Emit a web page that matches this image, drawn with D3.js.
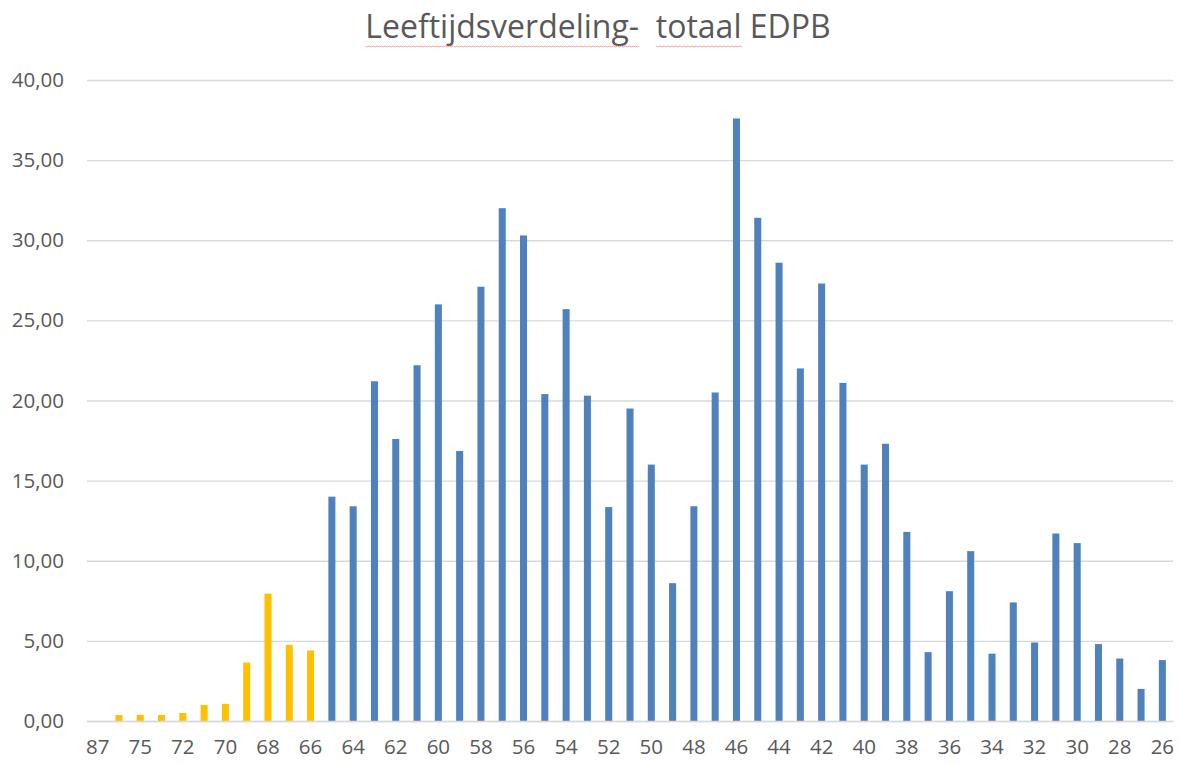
<!DOCTYPE html>
<html>
<head>
<meta charset="utf-8">
<script src="https://cdn.jsdelivr.net/npm/d3@7"></script>
<style>
  body { margin: 0; background: #fff; }
  svg { display: block; font-family: "Open Sans", "Liberation Sans", sans-serif; }
</style>
</head>
<body>
<svg id="chart"></svg>
<script>
// ages on x axis (oldest first), only every other one is labelled
const ages = ['87', '76', '75', '74', '72', '71', '70', '69', '68', '67', '66',
  '65', '64', '63', '62', '61', '60', '59', '58', '57', '56', '55', '54', '53', '52',
  '51', '50', '49', '48', '47', '46', '45', '44', '43', '42', '41', '40', '39', '38',
  '37', '36', '35', '34', '33', '32', '31', '30', '29', '28', '27', '26']
const values = [0, 0.37, 0.38, 0.38, 0.5, 1.0, 1.07, 3.65, 7.95, 4.75, 4.4,
  14.0, 13.4, 21.2, 17.6, 22.2, 26.0, 16.85, 27.1, 32.0, 30.3, 20.4, 25.7, 20.3, 13.35,
  19.5, 16.0, 8.6, 13.4, 20.5, 37.6, 31.4, 28.6, 22.0, 27.3, 21.1, 16.0, 17.3, 11.8,
  4.3, 8.1, 10.6, 4.2, 7.4, 4.9, 11.7, 11.1, 4.8, 3.9, 2.0, 3.8]
// first ages (retired) drawn in yellow
const retiredCount = 11
const yTicks = [0, 5, 10, 15, 20, 25, 30, 35, 40]
const title = 'Leeftijdsverdeling-  totaal EDPB'

const width = 1181, height = 765
const margin = {top: 80, right: 8, bottom: 44, left: 87}
const fontFam = '"Open Sans", "Liberation Sans", sans-serif'

const svg = d3.select('#chart')
  .attr('width', width)
  .attr('height', height)

const x = d3.scaleBand()
  .domain(ages)
  .range([margin.left, width - margin.right])
  .paddingInner(0.67)
  .paddingOuter(0.335)

const y = d3.scaleLinear()
  .domain([0, 40])
  .range([height - margin.bottom, margin.top])

const fmt = v => v.toFixed(2).replace('.', ',')

// grid + y labels
const yAxis = svg.append('g')
  .attr('transform', `translate(${margin.left},0)`)
  .attr('font-family', fontFam)
  .call(d3.axisLeft(y).tickValues(yTicks).tickFormat(fmt)
    .tickSize(-(width - margin.left - margin.right)).tickPadding(23))
yAxis.select('.domain').remove()
yAxis.selectAll('line').attr('stroke', '#d9d9d9').attr('stroke-width', 1.3)
yAxis.selectAll('text')
  .attr('fill', '#595959')
  .style('font-family', fontFam)
  .style('font-size', '20.5px')

// bars
svg.append('g').selectAll('rect')
  .data(values)
  .join('rect')
    .attr('x', (d, i) => x(ages[i]))
    .attr('y', d => y(d))
    .attr('width', x.bandwidth())
    .attr('height', d => y(0) - y(d))
    .attr('fill', (d, i) => i < retiredCount ? '#ffc000' : '#4f81bd')

// x axis
const xAxis = svg.append('g')
  .attr('transform', `translate(0,${y(0)})`)
  .attr('font-family', fontFam)
  .call(d3.axisBottom(x).tickSize(0).tickPadding(18)
    .tickFormat((d, i) => i % 2 === 0 ? d : ''))
xAxis.select('.domain').attr('stroke', '#d9d9d9').attr('stroke-width', 1.3)
xAxis.selectAll('text')
  .attr('fill', '#595959')
  .style('font-family', fontFam)
  .style('font-size', '20.5px')

// title
const t = svg.append('text')
  .attr('x', 598)
  .attr('y', 38)
  .attr('text-anchor', 'middle')
  .attr('fill', '#595959')
  .style('font-size', '32px')
  .style('white-space', 'pre')
  .text(title)

// spell-check squiggles under the first two words
const node = t.node()
const x0 = node.getStartPositionOfChar(0).x
const squiggle = (from, len) => {
  const sx = x0 + node.getSubStringLength(0, from)
  const w = node.getSubStringLength(from, len)
  const pts = d3.range(0, Math.ceil(w / 2) + 1).map(k => [sx + k * 2, 46 + (k % 2 ? 1 : 0)])
  svg.append('path')
    .attr('d', d3.line()(pts))
    .attr('fill', 'none')
    .attr('stroke', '#f4a0a0')
    .attr('stroke-width', 1)
}
squiggle(0, 19)
squiggle(21, 6)
</script>
</body>
</html>
